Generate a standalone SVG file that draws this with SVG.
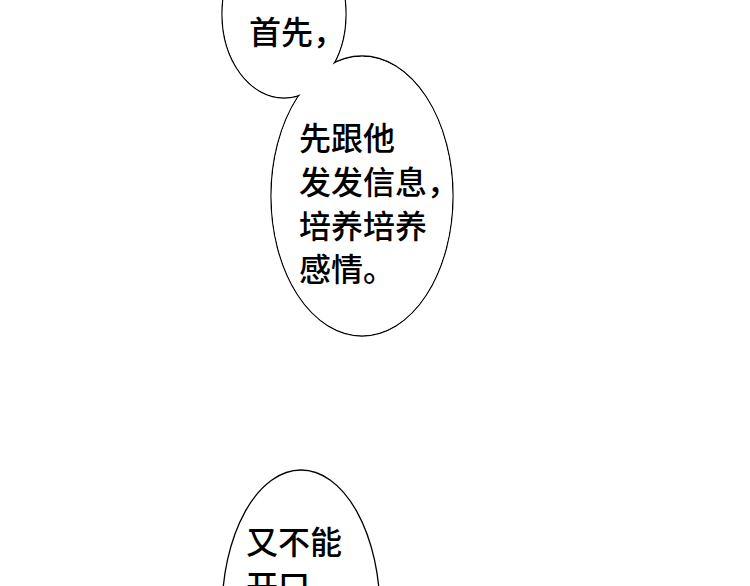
<svg xmlns="http://www.w3.org/2000/svg" width="750" height="586" viewBox="0 0 750 586">
<style>
.o{fill:none;stroke:#000;stroke-width:1.3}
.f{fill:#fff;stroke:none}
.t{font-family:"Noto Sans CJK SC",sans-serif;font-size:32px;fill:#000;font-weight:500}
</style>
<rect width="750" height="586" fill="#fff"/>
<g id="bubbles12">
<ellipse class="o" cx="284" cy="14" rx="62" ry="84"/>
<ellipse class="o" cx="362" cy="196" rx="91" ry="140"/>
<ellipse class="f" cx="284" cy="14" rx="61.3" ry="83.3"/>
<ellipse class="f" cx="362" cy="196" rx="90.3" ry="139.3"/>
</g>
<g id="bubble3">
<ellipse class="o" cx="301" cy="612" rx="79" ry="142"/>
</g>
<g id="text1"><text class="t" x="249" y="44">首先，</text></g>
<g id="text2">
<text class="t" x="299" y="150">先跟他</text>
<text class="t" x="299" y="194">发发信息，</text>
<text class="t" x="299" y="238">培养培养</text>
<text class="t" x="299" y="281">感情。</text>
</g>
<g id="text3">
<text class="t" x="246" y="554">又不能</text>
<text class="t" x="246" y="598">开口</text>
</g>
<g id="connectors"/>
</svg>
